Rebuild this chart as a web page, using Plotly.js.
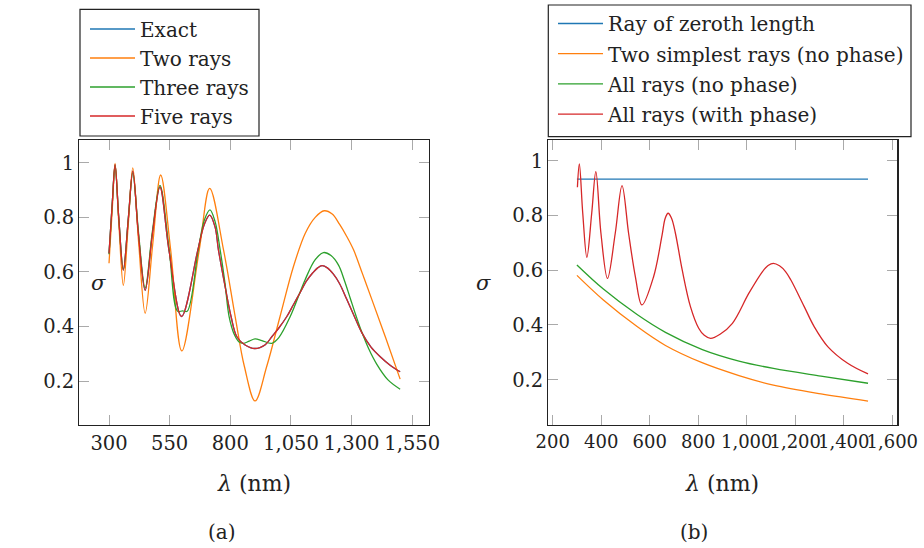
<!DOCTYPE html>
<html>
<head>
<meta charset="utf-8">
<script src="https://cdn.plot.ly/plotly-3.0.1.min.js"></script>
<style>html,body{margin:0;padding:0;background:#fff;}#chart{width:924px;height:548px;}</style>
</head>
<body>
<div id="chart"></div>
<script>
// ---------- Panel (a) ----------
var exactX = [300, 314, 325, 340, 359, 380, 398, 421, 449, 479, 510, 547, 599, 666, 693, 715, 737, 751, 776, 803, 827, 861, 901, 944, 971, 1000, 1033, 1060, 1088, 1115, 1140, 1160, 1178, 1200, 1225, 1250, 1280, 1310, 1342, 1380, 1418, 1460, 1500];
var exactY = [0.668, 0.86, 0.993, 0.80, 0.607, 0.80, 0.969, 0.74, 0.533, 0.74, 0.911, 0.68, 0.437, 0.68, 0.775, 0.808, 0.765, 0.681, 0.559, 0.437, 0.363, 0.333, 0.320, 0.334, 0.363, 0.395, 0.437, 0.48, 0.525, 0.568, 0.597, 0.615, 0.623, 0.615, 0.592, 0.558, 0.50, 0.44, 0.378, 0.325, 0.29, 0.258, 0.235];

var twoX = [300, 314, 325, 341, 359, 379, 398, 422, 449, 480, 513, 554, 600, 672, 715, 772, 820, 858, 902, 950, 1005, 1060, 1109, 1150, 1187, 1220, 1250, 1280, 1308, 1345, 1384, 1440, 1500];
var twoY = [0.632, 0.84, 0.997, 0.77, 0.551, 0.77, 0.981, 0.71, 0.449, 0.70, 0.955, 0.681, 0.311, 0.681, 0.906, 0.681, 0.437, 0.254, 0.128, 0.254, 0.437, 0.619, 0.742, 0.80, 0.824, 0.812, 0.775, 0.73, 0.681, 0.593, 0.498, 0.36, 0.208];

var threeX = [300, 314, 325, 340, 359, 380, 398, 421, 449, 479, 510, 547, 583, 603, 622, 668, 693, 716, 737, 758, 778, 795, 817, 835, 854, 878, 902, 930, 971, 1000, 1047, 1108, 1150, 1184, 1215, 1246, 1270, 1294, 1318, 1342, 1370, 1404, 1450, 1500];
var threeY = [0.665, 0.86, 0.99, 0.80, 0.61, 0.80, 0.963, 0.75, 0.542, 0.75, 0.917, 0.69, 0.456, 0.458, 0.456, 0.681, 0.79, 0.827, 0.785, 0.681, 0.559, 0.437, 0.37, 0.345, 0.339, 0.347, 0.355, 0.349, 0.339, 0.36, 0.437, 0.571, 0.645, 0.671, 0.66, 0.625, 0.57, 0.505, 0.44, 0.38, 0.32, 0.262, 0.205, 0.171];

var fiveX = exactX.slice();
var fiveY = exactY.slice();

var tickValsA = [300, 550, 800, 1050, 1300, 1550];
var tickTextA = ["300", "550", "800", "1,050", "1,300", "1,550"];

// ---------- Panel (b) ----------
var zeroX = [300, 1500];
var zeroY = [0.933, 0.933];

var simpleX = [300, 409, 548, 665, 816, 968, 1110, 1306, 1500];
var simpleY = [0.581, 0.491, 0.394, 0.325, 0.262, 0.215, 0.180, 0.148, 0.122];

var allNoX = [300, 409, 548, 665, 817, 968, 1110, 1306, 1500];
var allNoY = [0.619, 0.531, 0.438, 0.373, 0.31, 0.268, 0.241, 0.213, 0.187];

var allPhX = [302, 310, 324, 341, 361, 378, 399, 426, 458, 486, 513, 541, 568, 616, 651, 664, 676, 690, 706, 734, 768, 802, 825, 851, 890, 941, 1009, 1065, 1088, 1110, 1135, 1160, 1182, 1237, 1278, 1334, 1416, 1500];
var allPhY = [0.903, 0.988, 0.808, 0.647, 0.808, 0.960, 0.735, 0.570, 0.735, 0.909, 0.735, 0.576, 0.473, 0.576, 0.728, 0.79, 0.808, 0.79, 0.735, 0.601, 0.467, 0.388, 0.362, 0.351, 0.366, 0.406, 0.516, 0.595, 0.617, 0.625, 0.616, 0.595, 0.564, 0.467, 0.394, 0.321, 0.26, 0.221];

var tickValsB = [200, 400, 600, 800, 1000, 1200, 1400, 1600];
var tickTextB = ["200", "400", "600", "800", "1,000", "1,200", "1,400", "1,600"];

var yTickVals = [0.2, 0.4, 0.6, 0.8, 1];
var yTickText = ["0.2", "0.4", "0.6", "0.8", "1"];

var legendA = ["Exact", "Two rays", "Three rays", "Five rays"];
var legendB = ["Ray of zeroth length", "Two simplest rays (no phase)", "All rays (no phase)", "All rays (with phase)"];

var C = {blue: "#1f77b4", orange: "#ff7f0e", green: "#2ca02c", red: "#d62728"};
var FONT = "DejaVu Serif, serif";
var W = 924, H = 548;
function px(x) { return x / W; }
function py(y) { return 1 - y / H; }

function tr(x, y, name, color, xa, ya, leg, grp) {
  return {x: x, y: y, name: name, type: "scatter", mode: "lines",
    line: {color: color, width: 1.3, shape: "spline", smoothing: 1},
    xaxis: xa, yaxis: ya, legend: leg, legendgroup: grp, hoverinfo: "skip"};
}

var data = [
  tr(exactX, exactY, legendA[0], C.blue, "x", "y", "legend", "a1"),
  tr(twoX, twoY, legendA[1], C.orange, "x", "y", "legend", "a2"),
  tr(threeX, threeY, legendA[2], C.green, "x", "y", "legend", "a3"),
  tr(fiveX, fiveY, legendA[3], C.red, "x", "y", "legend", "a4"),
  tr(zeroX, zeroY, legendB[0], C.blue, "x2", "y2", "legend2", "b1"),
  tr(simpleX, simpleY, legendB[1], C.orange, "x2", "y2", "legend2", "b2"),
  tr(allNoX, allNoY, legendB[2], C.green, "x2", "y2", "legend2", "b3"),
  tr(allPhX, allPhY, legendB[3], C.red, "x2", "y2", "legend2", "b4")
];

function axBase() {
  return {showline: true, linecolor: "#222", linewidth: 1.2, mirror: "allticks",
    ticks: "inside", ticklen: 10, tickcolor: "#aaa", tickwidth: 1, tickangle: 0,
    showgrid: false, zeroline: false, fixedrange: true,
    tickfont: {family: FONT, size: 19.5, color: "#222"}, tickmode: "array"};
}

var xa = axBase(); xa.domain = [px(79.3), px(429)]; xa.range = [177.5, 1619]; xa.tickvals = tickValsA; xa.ticktext = tickTextA; xa.anchor = "y";
var ya = axBase(); ya.domain = [py(425), py(140)]; ya.range = [0.04, 1.083]; ya.tickvals = yTickVals; ya.ticktext = yTickText; ya.anchor = "x";
var xb = axBase(); xb.domain = [px(548.3), px(897.3)]; xb.range = [182, 1620.7]; xb.tickvals = tickValsB; xb.ticktext = tickTextB; xb.anchor = "y2";
xb.tickfont = {family: FONT, size: 18, color: "#222"};
var yb = axBase(); yb.domain = [py(425), py(140)]; yb.range = [0.0345, 1.0756]; yb.tickvals = yTickVals; yb.ticktext = yTickText; yb.anchor = "x2";

function ann(x, y, text, size) {
  return {xref: "paper", yref: "paper", x: px(x), y: py(y), text: text, showarrow: false,
    xanchor: "center", yanchor: "middle", font: {family: FONT, size: size, color: "#222"}};
}

function legCfg(x, y, gap) {
  return {xref: "paper", yref: "paper", x: px(x), y: py(y), xanchor: "left", yanchor: "top",
    bgcolor: "rgba(0,0,0,0)", borderwidth: 0, tracegroupgap: gap, itemwidth: 45,
    font: {family: FONT, size: 20, color: "#222"}, itemclick: false, itemdoubleclick: false};
}

var layout = {
  width: W, height: H, margin: {l: 0, r: 0, t: 0, b: 0},
  paper_bgcolor: "#fff", plot_bgcolor: "#fff", showlegend: true,
  xaxis: xa, yaxis: ya, xaxis2: xb, yaxis2: yb,
  legend: legCfg(85, 9.5, 0),
  legend2: legCfg(553, 4, 1.2),
  shapes: [
    {type: "rect", xref: "paper", yref: "paper", x0: px(80), x1: px(259), y0: py(136), y1: py(9.3), line: {color: "#222", width: 1.2}, fillcolor: "rgba(0,0,0,0)", layer: "below"},
    {type: "rect", xref: "paper", yref: "paper", x0: px(548.3), x1: px(911), y0: py(136.7), y1: py(5), line: {color: "#222", width: 1.2}, fillcolor: "rgba(0,0,0,0)", layer: "below"}
  ],
  annotations: [
    ann(98, 283, "<i>σ</i>", 21),
    ann(483, 283, "<i>σ</i>", 21),
    ann(254, 483, "<i>λ</i> (nm)", 22),
    ann(722, 483, "<i>λ</i> (nm)", 22),
    ann(222, 532, "(a)", 20),
    ann(694, 532, "(b)", 20)
  ]
};

Plotly.newPlot("chart", data, layout, {displayModeBar: false, staticPlot: true});
</script>
</body>
</html>
